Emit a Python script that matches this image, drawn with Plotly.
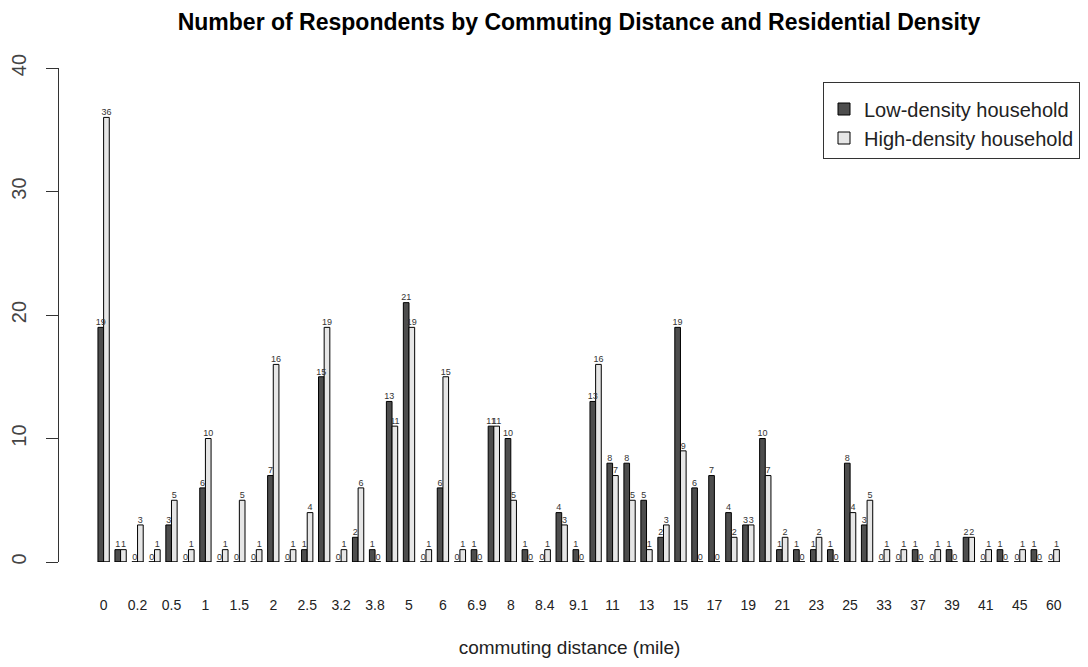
import numpy as np
import plotly.graph_objects as go

# commuting distance categories (every other one is labelled on the axis)
categories = ["0", "0.1", "0.2", "0.3", "0.5", "0.8", "1", "1.2", "1.5", "1.8",
              "2", "2.2", "2.5", "3", "3.2", "3.5", "3.8", "4", "5", "5.5",
              "6", "6.5", "6.9", "7", "8", "8.2", "8.4", "9", "9.1", "10",
              "11", "12", "13", "14", "15", "16", "17", "18", "19", "20",
              "21", "22", "23", "24", "25", "30", "33", "35", "37", "38",
              "39", "40", "41", "43", "45", "50", "60"]

low_density = [19, 1, 0, 0, 3, 0, 6, 0, 0, 0, 7, 0, 1, 15, 0, 2, 1, 13, 21, 0,
               6, 0, 1, 11, 10, 1, 0, 4, 1, 13, 8, 8, 5, 2, 19, 6, 7, 4, 3, 10,
               1, 1, 1, 1, 8, 3, 0, 0, 1, 0, 1, 2, 0, 1, 0, 1, 0]

high_density = [36, 1, 3, 1, 5, 1, 10, 1, 5, 1, 16, 1, 4, 19, 1, 6, 0, 11, 19, 1,
                15, 1, 0, 11, 5, 0, 1, 3, 0, 16, 7, 5, 1, 3, 9, 0, 0, 2, 3, 7,
                2, 0, 2, 0, 4, 5, 1, 1, 0, 1, 0, 2, 1, 0, 1, 0, 1]

y_ticks = [0, 10, 20, 30, 40]

pos = np.arange(len(categories))
tick_pos = pos[::2]
tick_text = categories[::2]

DARK = "#4D4D4D"
LIGHT = "#E6E6E6"
FONT = "Liberation Sans, Arial, sans-serif"

W, H = 1072, 651

fig = go.Figure()

# baseline under each group (R draws borders of zero-height bars)
bx, by = [], []
for p in pos:
    bx += [p - 1 / 3, p + 1 / 3, None]
    by += [0, 0, None]
fig.add_trace(go.Scatter(x=bx, y=by, mode="lines", line=dict(color="black", width=1),
                         showlegend=False, hoverinfo="skip", cliponaxis=False))

fig.add_trace(go.Bar(x=pos, y=low_density, name="Low-density household",
                     marker=dict(color=DARK, line=dict(color="black", width=1)),
                     customdata=categories,
                     hovertemplate="%{customdata} mile: %{y}<extra>Low-density</extra>"))
fig.add_trace(go.Bar(x=pos, y=high_density, name="High-density household",
                     marker=dict(color=LIGHT, line=dict(color="black", width=1)),
                     customdata=categories,
                     hovertemplate="%{customdata} mile: %{y}<extra>High-density</extra>"))

# value labels above bars
fig.add_trace(go.Scatter(x=pos - 1 / 6, y=low_density, mode="text",
                         text=[str(v) for v in low_density], textposition="top center",
                         textfont=dict(size=9, color="#333333", family=FONT),
                         showlegend=False, hoverinfo="skip", cliponaxis=False))
fig.add_trace(go.Scatter(x=pos + 1 / 6, y=high_density, mode="text",
                         text=[str(v) for v in high_density], textposition="top center",
                         textfont=dict(size=9, color="#333333", family=FONT),
                         showlegend=False, hoverinfo="skip", cliponaxis=False))

fig.update_layout(
    width=W, height=H,
    margin=dict(l=49, r=0, t=60, b=97),
    paper_bgcolor="white", plot_bgcolor="white",
    barmode="group", bargap=1 / 3, bargroupgap=0,
    font=dict(family=FONT, color="#333333"),
    title=dict(text="<b>Number of Respondents by Commuting Distance and Residential Density</b>",
               x=571 / W, xanchor="center", y=1 - 14 / H, yanchor="middle",
               font=dict(size=23, color="black", family=FONT)),
    legend=dict(x=1, xanchor="right", y=(554 - 74) / 494, yanchor="top",
                bordercolor="#333333", borderwidth=1, bgcolor="white",
                font=dict(size=20, color="#222222", family=FONT),
                title=dict(text=" ", font=dict(size=5)),
                traceorder="normal", itemwidth=30),
    showlegend=True,
)

fig.update_xaxes(range=[-2.63, 57.55], tickmode="array", tickvals=tick_pos, ticktext=tick_text,
                 showgrid=False, zeroline=False, showline=False, ticks="",
                 tickfont=dict(size=14, color="#222222"), ticklabelstandoff=33,
                 title=dict(text="commuting distance (mile)", font=dict(size=19, color="#222222"),
                            standoff=28))
fig.update_yaxes(range=[0, 40], tickmode="array", tickvals=y_ticks,
                 showgrid=False, zeroline=False, showline=True, linecolor="#333333", linewidth=1,
                 ticks="outside", ticklen=12, tickcolor="#333333", tickangle=-90,
                 tickfont=dict(size=20, color="#444444"), ticklabelstandoff=12)

fig.write_html("out.html")
